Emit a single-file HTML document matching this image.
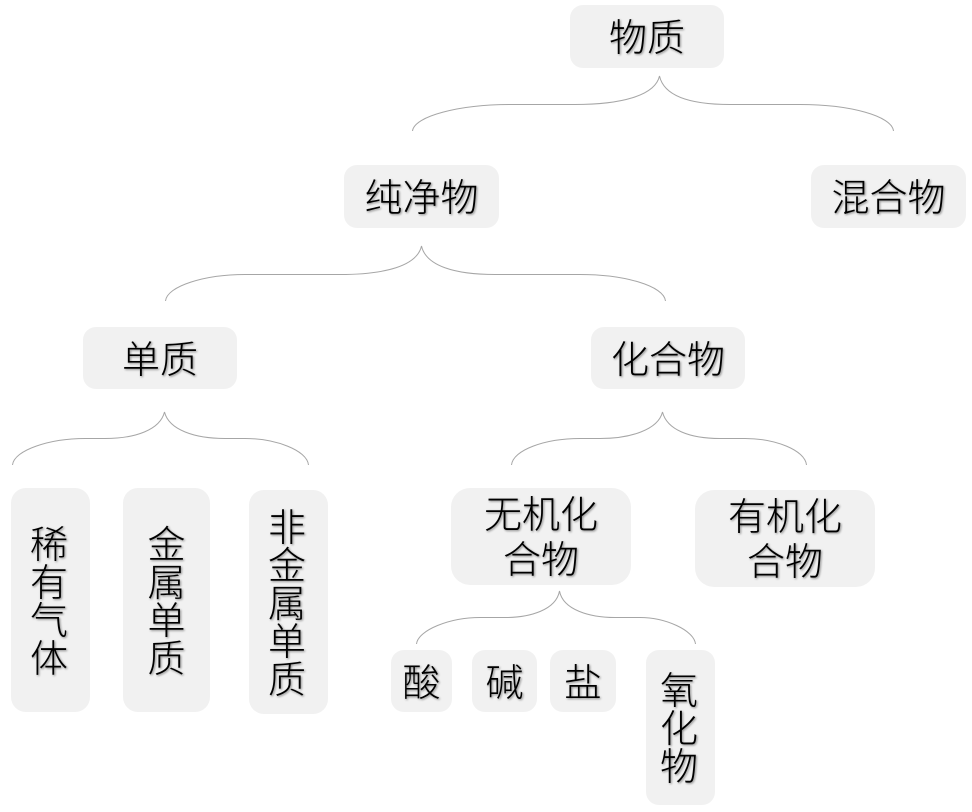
<!DOCTYPE html>
<html lang="zh">
<head>
<meta charset="utf-8">
<title>物质分类</title>
<style>
html,body{margin:0;padding:0;background:#fff}
#c{position:relative;width:972px;height:812px;overflow:hidden;background:#fff}
.b{position:absolute;box-sizing:border-box;padding-top:5px;background:#f1f1f1;border-radius:13px;display:flex;align-items:center;justify-content:center;text-align:center;
font-family:"Liberation Sans","Noto Sans CJK SC",sans-serif;font-size:38px;font-weight:300;line-height:38px;color:#000;text-shadow:1px 1px 2px rgba(0,0,0,.45)}
.t{line-height:45px;padding-top:4px}
.v{padding-right:3px}
svg{position:absolute;left:0;top:0}
path{fill:none;stroke:#a6a6a6;stroke-width:1}
</style>
</head>
<body>
<div id="c">
<svg width="972" height="812" viewBox="0 0 972 812">
<path d="M412.500 131C414 116 460 104.500 510 104.500L575 104.500C620 104.500 655 96 659.500 76C664 96 690 104.500 730 104.500L800 104.500C850 104.500 892 116 893.500 131"/>
<path d="M165.500 301C167 286 205 274.500 245 274.500L340 274.500C385 274.500 417 266 421.500 246C426 266 455 274.500 495 274.500L580 274.500C625 274.500 664 286 665.500 301"/>
<path d="M12.500 465C14 450 50 438.500 85 438.500L105 438.500C135 438.500 160 430 164.500 412C169 430 195 438.500 225 438.500L245 438.500C275 438.500 307 450 308.500 465"/>
<path d="M511.500 465C513 450 545 438.500 580 438.500L600 438.500C630 438.500 658 430 662.500 412C667 430 690 438.500 720 438.500L745 438.500C775 438.500 805 450 806.500 465"/>
<path d="M416.500 644C418 630 450 617.500 480 617.500L505 617.500C530 617.500 556 610 559.500 591C563 610 590 617.500 615 617.500L640 617.500C665 617.500 694 630 695.500 644"/>
</svg>
<div class="b" style="left:570px;top:5px;width:154px;height:63px">物质</div>
<div class="b" style="left:344px;top:165px;width:155px;height:63px">纯净物</div>
<div class="b" style="left:811px;top:165px;width:155px;height:63px">混合物</div>
<div class="b" style="left:83px;top:327px;width:154px;height:62px">单质</div>
<div class="b" style="left:591px;top:327px;width:154px;height:62px">化合物</div>
<div class="b v" style="left:11px;top:488px;width:79px;height:224px;border-radius:15px">稀<br>有<br>气<br>体</div>
<div class="b" style="left:123px;top:488px;width:87px;height:224px;border-radius:15px">金<br>属<br>单<br>质</div>
<div class="b v" style="left:249px;top:490px;width:79px;height:224px;border-radius:15px">非<br>金<br>属<br>单<br>质</div>
<div class="b t" style="left:451px;top:488px;width:180px;height:97px;border-radius:19px">无机化<br>合物</div>
<div class="b t" style="left:695px;top:490px;width:180px;height:97px;border-radius:19px">有机化<br>合物</div>
<div class="b" style="left:391px;top:650px;width:61px;height:62px">酸</div>
<div class="b" style="left:472px;top:650px;width:65px;height:62px">碱</div>
<div class="b" style="left:550px;top:650px;width:66px;height:62px">盐</div>
<div class="b v" style="left:646px;top:650px;width:69px;height:155px">氧<br>化<br>物</div>
</div>
</body>
</html>
